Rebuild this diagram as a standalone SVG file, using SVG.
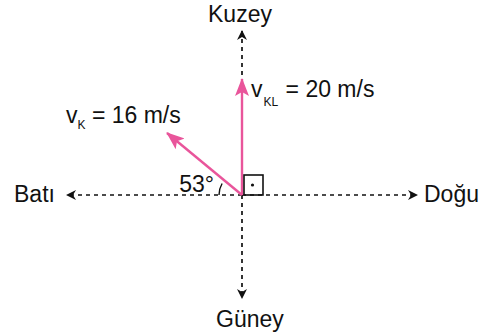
<svg xmlns="http://www.w3.org/2000/svg" width="494" height="335" viewBox="0 0 494 335">
<style>
.lbl{font-family:"Liberation Sans",Arial,sans-serif;font-size:23px;fill:#111}
.sub{font-size:12px}
.axis{stroke:#111;stroke-width:1.7;stroke-dasharray:4 4;fill:none}
.vec{stroke:#E9559B;stroke-width:2.4;fill:none}
</style>
<defs>
<marker id="ah" viewBox="0 0 10 10" refX="9" refY="5" markerWidth="10" markerHeight="10" markerUnits="userSpaceOnUse" orient="auto">
<path d="M0,0 L10,5 L0,10 L3,5 Z" fill="#111"/>
</marker>
<marker id="ph" viewBox="0 0 18 14" refX="17" refY="7" markerWidth="18" markerHeight="14" markerUnits="userSpaceOnUse" orient="auto">
<path d="M0,0 L18,7 L0,14 L4,7 Z" fill="#E9559B"/>
</marker>
</defs>
<g id="connectors">
<line class="axis" x1="242" y1="195" x2="67" y2="195" marker-end="url(#ah)"/>
<line class="axis" x1="242" y1="195" x2="417" y2="195" marker-end="url(#ah)"/>
<line class="axis" x1="242" y1="195" x2="242" y2="31" marker-end="url(#ah)"/>
<line class="axis" x1="242" y1="195" x2="242" y2="298" marker-end="url(#ah)"/>
<line class="vec" x1="242" y1="195" x2="242" y2="79" marker-end="url(#ph)"/>
<line class="vec" x1="242" y1="195" x2="167" y2="133" marker-end="url(#ph)"/>
<path d="M219,195 A23,23 0 0 1 222.1,183.5" fill="none" stroke="#111" stroke-width="1.4"/>
<rect x="244" y="175" width="19" height="20" fill="none" stroke="#111" stroke-width="1.6"/>
<circle cx="252.5" cy="185" r="1.6" fill="#111"/>
</g>
<g id="kuzey"><text class="lbl" x="208" y="22">Kuzey</text></g>
<g id="guney"><text class="lbl" x="216" y="327">Güney</text></g>
<g id="bati"><text class="lbl" x="14" y="202">Batı</text></g>
<g id="dogu"><text class="lbl" x="424" y="202">Doğu</text></g>
<g id="angle"><text class="lbl" x="214" y="192" text-anchor="end">53°</text></g>
<g id="vK"><text class="lbl" x="66" y="123">v<tspan class="sub" dy="6">K</tspan><tspan dy="-6"> = 16 m/s</tspan></text></g>
<g id="vKL"><text class="lbl" x="251" y="97">v<tspan class="sub" dy="9" dx="1">KL</tspan><tspan dy="-9" dx="1"> = 20 m/s</tspan></text></g>
</svg>
